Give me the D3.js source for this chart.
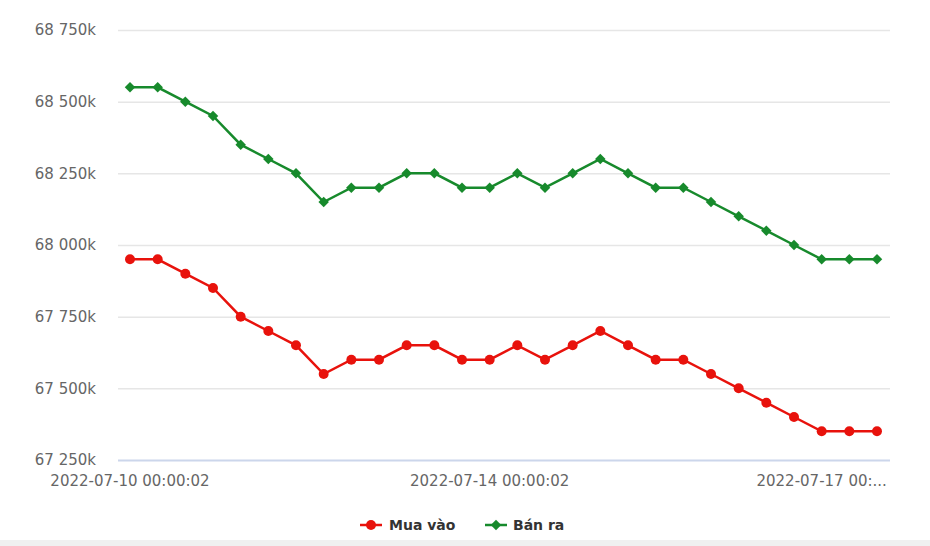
<!DOCTYPE html>
<html><head><meta charset="utf-8">
<script src="https://cdn.jsdelivr.net/npm/d3@7"></script>
<style>
body{margin:0;background:#fff;}
text{font-family:"DejaVu Sans",sans-serif;}
</style></head>
<body><svg id="c" width="930" height="546"></svg>
<script>
const seriesNames = ["Mua vào", "Bán ra"];
const muaVao = [67950,67950,67900,67850,67750,67700,67650,67550,67600,67600,67650,67650,67600,67600,67650,67600,67650,67700,67650,67600,67600,67550,67500,67450,67400,67350,67350,67350];
const banRa = [68550,68550,68500,68450,68350,68300,68250,68150,68200,68200,68250,68250,68200,68200,68250,68200,68250,68300,68250,68200,68200,68150,68100,68050,68000,67950,67950,67950];
const yTicks = [67250,67500,67750,68000,68250,68500,68750];
const xTickIndex = [0,13,25];
const xTickLabels = ["2022-07-10 00:00:02","2022-07-14 00:00:02","2022-07-17 00:00:02"];

(function(){
const svg = d3.select("#c");
const W=930,H=546;
const pL=118,pR=890,pT=30,pB=460;
const x = d3.scaleLinear().domain([0, muaVao.length-1]).range([130, 877]);
const y = d3.scaleLinear().domain([67250,68750]).range([pB, pT]);

svg.append("rect").attr("x",0).attr("y",540).attr("width",W).attr("height",6).attr("fill","#f0f0f0");

const yAxis = d3.axisLeft(y).tickValues(yTicks).tickSize(-(pR-pL)).tickPadding(22)
  .tickFormat(d=>{const s=String(d); return s.slice(0,2)+" "+s.slice(2)+"k";});
const gy = svg.append("g").attr("transform",`translate(${pL},0)`).call(yAxis);
gy.select(".domain").remove();
gy.selectAll("line").attr("stroke","#e6e6e6").attr("stroke-width",1.5);
gy.selectAll("text").attr("fill","#666").attr("font-size",15).attr("font-family","DejaVu Sans");
gy.selectAll(".tick").filter(d=>d===67250).select("line").attr("stroke","#ccd6eb").attr("stroke-width",2);

const xg = svg.append("g");
xTickIndex.forEach((idx,i)=>{
  const t = xg.append("text").attr("x",x(idx)).attr("y",486).attr("text-anchor","middle")
    .attr("fill","#666").attr("font-size",15).text(xTickLabels[i]);
  let txt = xTickLabels[i];
  while (x(idx) + t.node().getComputedTextLength()/2 > pR && txt.length>3) {
    txt = txt.slice(0,-1);
    t.text(txt.trimEnd()+"...");
  }
});

const series = [
  {name:seriesNames[0], data:muaVao, color:"#e8120c", sym:"circle"},
  {name:seriesNames[1], data:banRa, color:"#178a2c", sym:"diamond"}
];
const line = d3.line().x((d,i)=>x(i)).y(d=>y(d));
series.forEach(s=>{
  svg.append("path").datum(s.data).attr("d",line).attr("fill","none")
    .attr("stroke",s.color).attr("stroke-width",2.5);
  const sym = s.sym==="circle" ? d3.symbol(d3.symbolCircle, 78) : d3.symbol(d3.symbolDiamond2, 70);
  svg.append("g").selectAll("path").data(s.data).join("path")
    .attr("transform",(d,i)=>`translate(${x(i)},${y(d)})`).attr("d",sym()).attr("fill",s.color);
});

const lg = svg.append("g");
const legendPos = [{sx:360, tx:389},{sx:485, tx:513}];
series.forEach((s,i)=>{
  const p = legendPos[i];
  lg.append("line").attr("x1",p.sx).attr("x2",p.sx+22).attr("y1",525).attr("y2",525).attr("stroke",s.color).attr("stroke-width",2.5);
  const sym = s.sym==="circle" ? d3.symbol(d3.symbolCircle, 78) : d3.symbol(d3.symbolDiamond2, 70);
  lg.append("path").attr("transform",`translate(${p.sx+11},525)`).attr("d",sym()).attr("fill",s.color);
  lg.append("text").attr("x",p.tx).attr("y",530).attr("font-size",14).attr("font-weight","bold").attr("fill","#333").text(s.name);
});
})();
</script></body></html>
